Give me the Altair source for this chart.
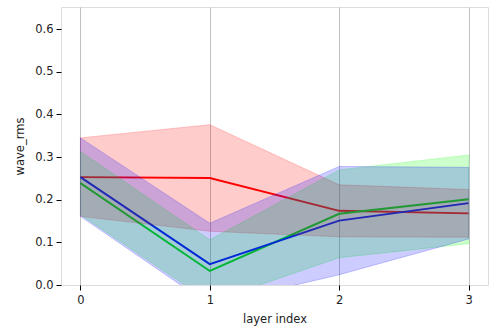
import altair as alt
import pandas as pd

layers = [0, 1, 2, 3]
series_names = ["red", "green", "blue"]
red_mean = [0.253, 0.251, 0.174, 0.168]
red_std = [0.092, 0.125, 0.061, 0.056]
green_mean = [0.239, 0.033, 0.167, 0.201]
green_std = [0.074, 0.073, 0.103, 0.104]
blue_mean = [0.253, 0.049, 0.151, 0.192]
blue_std = [0.092, 0.096, 0.127, 0.084]
line_colors = ["#ff0000", "#00dd00", "#0000ff"]
band_colors = ["#ff0000", "#00ff00", "#0000ff"]

rows = []
for name, means, stds in zip(series_names, [red_mean, green_mean, blue_mean], [red_std, green_std, blue_std]):
    for x, m, s in zip(layers, means, stds):
        rows.append({"series": name, "layer": x, "mean": m, "lo": m - s, "hi": m + s})
df = pd.DataFrame(rows)

xs = alt.Scale(domain=[-0.15, 3.15], nice=False, zero=False)
ys = alt.Scale(domain=[0, 0.652], nice=False, zero=False)
font = "DejaVu Sans"

x_enc = alt.X("layer:Q", scale=xs,
              axis=alt.Axis(values=layers, format="d", title="layer index", grid=True,
                            gridColor="#b0b0b0", gridWidth=0.8, domain=False,
                            tickColor="#000000", tickSize=5, labelPadding=4,
                            labelColor="#222222", labelFont=font, labelFontSize=11.5,
                            titleFont=font, titleFontSize=11.5, titleFontWeight="normal",
                            titleColor="#222222", titlePadding=8))
y_axis = alt.Axis(values=[0, 0.1, 0.2, 0.3, 0.4, 0.5, 0.6], format=".1f", title="wave_rms",
                  grid=False, domain=False, tickColor="#000000", tickSize=5, labelPadding=3,
                  labelColor="#222222", labelFont=font, labelFontSize=11.5,
                  titleFont=font, titleFontSize=11.5, titleFontWeight="normal",
                  titleColor="#222222", titlePadding=9)

line_scale = alt.Scale(domain=series_names, range=line_colors)
band_scale = alt.Scale(domain=series_names, range=band_colors)

lines = alt.Chart(df).mark_line(strokeWidth=1.9, clip=True).encode(
    x=x_enc,
    y=alt.Y("mean:Q", scale=ys, axis=y_axis),
    color=alt.Color("series:N", scale=line_scale, legend=None),
    detail="series:N",
)

bands = []
for name in series_names:
    b = alt.Chart(df[df["series"] == name]).mark_area(
        fillOpacity=0.2, strokeOpacity=0.2, strokeWidth=1, clip=True
    ).encode(
        x=alt.X("layer:Q", scale=xs),
        y=alt.Y("lo:Q", scale=ys),
        y2="hi:Q",
        fill=alt.Color("series:N", scale=band_scale, legend=None),
        stroke=alt.Color("series:N", scale=band_scale, legend=None),
    )
    bands.append(b)

chart = alt.layer(lines, *bands).properties(
    width=427, height=278,
    autosize=alt.AutoSizeParams(type="none"),
    padding={"left": 61, "top": 7, "right": 5, "bottom": 41},
).configure_view(stroke="#000000", strokeWidth=1.2).configure(background="white")

chart.save("out.html", embed_options={"renderer": "svg", "actions": False})
